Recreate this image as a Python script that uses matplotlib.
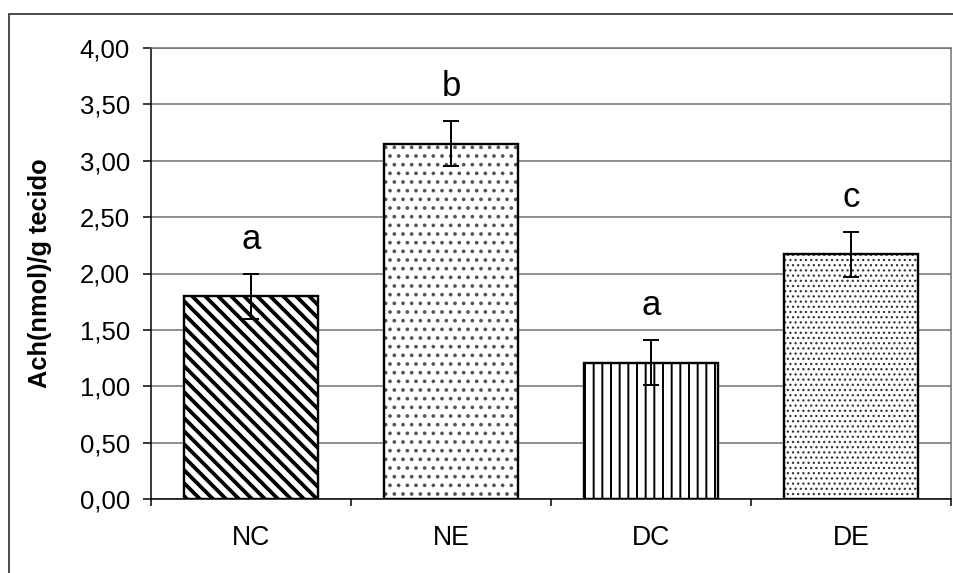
import matplotlib
matplotlib.use('Agg')
import matplotlib.pyplot as plt
from matplotlib.patches import Rectangle
from matplotlib.ticker import FixedLocator, FuncFormatter

''' Ach content per group, bars with SD and significance letters.
    Hatch sizes in Agg scale with dpi, so dpi is picked to fit the patterns.
'''

BS = chr(92)  # backslash, for the diagonal hatch

groups = ['NC', 'NE', 'DC', 'DE']
ach_mean = [1.80, 3.15, 1.21, 2.17]
ach_err = [0.20, 0.20, 0.20, 0.20]
sig_letters = ['a', 'b', 'a', 'c']

hatches = [BS * 4, '...', '|||', '.....']
hatch_colors = ['black', '#555555', 'black', '#333333']
hatch_widths = [1.75, 0.9, 0.9, 0.6]

DPI = 156
W, H = 954, 573

plt.rcParams['font.family'] = ['Liberation Sans', 'DejaVu Sans']
plt.rcParams['font.size'] = 11.9

fig = plt.figure(figsize=(W / DPI, H / DPI), dpi=DPI)
ax = fig.add_axes([151 / W, (H - 499) / H, 800 / W, 451 / H])

x = range(len(groups))
for i in x:
    # hatch first (hatch colour follows edgecolor), then a plain black outline
    b = ax.bar(i, ach_mean[i], width=0.67, color='white', edgecolor=hatch_colors[i],
               hatch=hatches[i], linewidth=0, zorder=2)
    for p in b:
        if hasattr(p, 'set_hatch_linewidth'):
            p.set_hatch_linewidth(hatch_widths[i])
    ax.bar(i, ach_mean[i], width=0.67, fill=False, edgecolor='black', linewidth=1.1, zorder=3)

ax.errorbar(list(x), ach_mean, yerr=ach_err, fmt='none', ecolor='black',
            elinewidth=0.9, capsize=3.5, capthick=0.9, zorder=4)

for i in x:
    ax.text(i, ach_mean[i] + ach_err[i] + 0.22, sig_letters[i], ha='center', va='baseline',
            fontsize=16)

ax.set_xlim(-0.5, len(groups) - 0.5)
ax.set_ylim(0, 4)
ax.yaxis.set_major_locator(FixedLocator([k * 0.5 for k in range(9)]))
ax.yaxis.set_major_formatter(FuncFormatter(lambda v, pos: ('%.2f' % v).replace('.', ',')))
ax.set_xticks(list(x))
ax.set_xticklabels(groups)
ax.xaxis.set_minor_locator(FixedLocator([k - 0.5 for k in range(len(groups) + 1)]))
ax.tick_params(axis='x', which='major', length=0, pad=12, labelsize=12.3)
ax.tick_params(axis='x', which='minor', length=3.3, width=0.7, direction='out')
ax.tick_params(axis='y', length=3.7, width=0.7, pad=6, labelsize=11.9)

ax.yaxis.grid(True, color='#707070', linewidth=0.7)
ax.set_axisbelow(True)
for side in ['left', 'bottom']:
    ax.spines[side].set_color('black')
    ax.spines[side].set_linewidth(0.7)
for side in ['top', 'right']:
    ax.spines[side].set_color('#707070')
    ax.spines[side].set_linewidth(0.7)

ax.set_ylabel('Ach(nmol)/g tecido', fontweight='bold', fontsize=11.7)
ax.yaxis.set_label_coords(-0.124, 0.5)

# chart area border, runs off the right and bottom of the image
fig.patches.append(Rectangle((9 / W, -0.2), 1.0, 1.2 - 14 / H, transform=fig.transFigure,
                             fill=False, edgecolor='#333333', linewidth=0.8))

fig.savefig('out.png', dpi=DPI)
plt.close('all')
